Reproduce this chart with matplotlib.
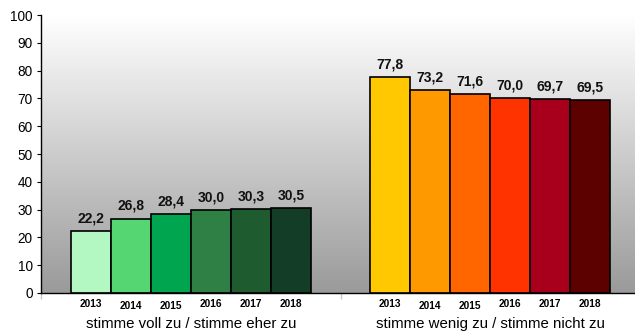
import numpy as np
import matplotlib
matplotlib.use("Agg")
import matplotlib.pyplot as plt
from matplotlib.colors import LinearSegmentedColormap
from matplotlib.transforms import blended_transform_factory

plt.rcParams['font.family'] = ['Liberation Sans', 'DejaVu Sans']

years = ["2013", "2014", "2015", "2016", "2017", "2018"]
categories = ["stimme voll zu / stimme eher zu", "stimme wenig zu / stimme nicht zu"]
agree = [22.2, 26.8, 28.4, 30.0, 30.3, 30.5]
disagree = [77.8, 73.2, 71.6, 70.0, 69.7, 69.5]

green_colors = ["#b3f7c3", "#55d672", "#00a550", "#2e8045", "#1e5c30", "#133d26"]
red_colors = ["#ffc800", "#ff9900", "#ff6600", "#ff3300", "#a8001c", "#5c0000"]

fig = plt.figure(figsize=(6.35, 3.34), dpi=100)
ax = fig.add_axes([0.0646, 0.1228, 0.9354, 0.832])

xlim = (-0.75, 14.1)
ax.set_xlim(*xlim)

# gradient background: white on top, gray at the bottom
grad = np.linspace(1, 0, 256).reshape(-1, 1)
cmap = LinearSegmentedColormap.from_list("bg", ["#ffffff", "#9a9a9a"])
ax.imshow(grad, aspect="auto", cmap=cmap, extent=(xlim[0], xlim[1], 0, 100),
          origin="lower", zorder=0)
ax.set_ylim(0, 100)

x1 = np.arange(6)
x2 = np.arange(6) + 7.475
ax.bar(x1, agree, width=1.0, align="edge", color=green_colors,
       edgecolor="black", linewidth=1.2, zorder=2)
ax.bar(x2, disagree, width=1.0, align="edge", color=red_colors,
       edgecolor="black", linewidth=1.2, zorder=2)

for xs, vals in [(x1, agree), (x2, disagree)]:
    for x, v in zip(xs, vals):
        ax.annotate(f"{v:.1f}".replace(".", ","), (x + 0.5, v), xytext=(0, 4),
                    textcoords="offset points", ha="center", va="bottom",
                    fontsize=10, fontweight="bold", color="#111111")

# year labels under bars (slightly staggered like the original)
offsets = [0, 2, 2, 0, 0, 0]
tr = blended_transform_factory(ax.transData, ax.transAxes)
for xs in (x1, x2):
    for x, y, off in zip(xs, years, offsets):
        ax.annotate(y, (x + 0.5, 0), xycoords=tr, xytext=(0, -4 - off),
                    textcoords="offset points", ha="center", va="top",
                    fontsize=7.3, fontweight="bold")

for xc, cat in zip([3.0, 10.475], categories):
    ax.annotate(cat, (xc, 0), xycoords=tr, xytext=(0, -17.5),
                textcoords="offset points", ha="center", va="top", fontsize=10.8)

# category separator ticks
ax.set_xticks([xlim[0], 6.74])
ax.set_xticklabels([])
ax.tick_params(axis="x", length=4, width=1.0, color="#c8c8c8")
ax.set_yticks(range(0, 101, 10))
ax.tick_params(axis="y", labelsize=9.8, length=3, width=0.8, pad=3)
for side in ["top", "right"]:
    ax.spines[side].set_visible(False)
ax.spines["left"].set_linewidth(1.0)
ax.spines["bottom"].set_linewidth(1.0)

fig.savefig("out.png", dpi=100)
